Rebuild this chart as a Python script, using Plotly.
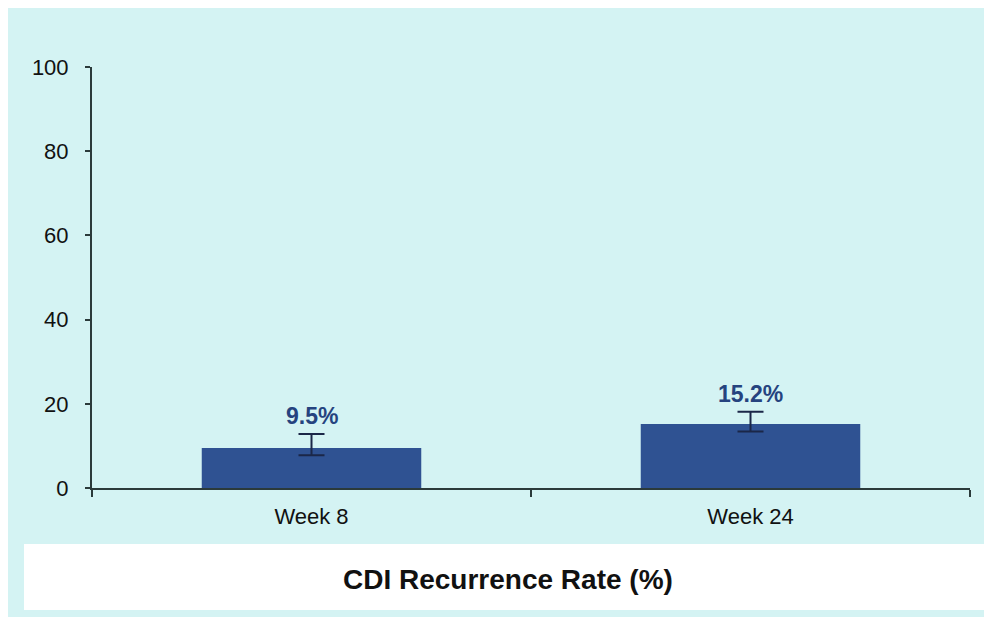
import plotly.graph_objects as go

categories = ["Week 8", "Week 24"]
rates = [9.5, 15.2]
err_plus = [3.3, 2.9]
err_minus = [1.7, 1.8]
labels = ["9.5%", "15.2%"]
y_ticks = [0, 20, 40, 60, 80, 100]
x_title = "CDI Recurrence Rate (%)"

# page body has an 8px margin, which gives the white border of the reference
W, H = 992, 609
L, R, T, B = 84, 30, 59, 129
pw, ph = W - L - R, H - T - B

def px(x):
    return (x - L) / pw

def py(y):
    return (H - B - y) / ph

CYAN = "#d4f3f3"
BAR = "#2f5292"
LABEL = "#25437f"
AXIS = "#2b3a3a"
FONT = "Liberation Sans, Arial, sans-serif"

fig = go.Figure()
fig.add_trace(go.Bar(
    x=categories, y=rates,
    marker=dict(color=BAR, line=dict(width=0)),
    error_y=dict(type="data", symmetric=False, array=err_plus, arrayminus=err_minus,
                 color="#1b2748", thickness=2, width=13),
    hoverinfo="skip",
))

for c, v, e, t in zip(categories, rates, err_plus, labels):
    fig.add_annotation(x=c, y=v + e, text=f"<b>{t}</b>", showarrow=False,
                       yanchor="bottom", yshift=3,
                       font=dict(family=FONT, size=23, color=LABEL))

fig.add_annotation(xref="paper", yref="paper", x=px(500), y=py(571),
                   text=f"<b>{x_title}</b>", showarrow=False,
                   xanchor="center", yanchor="middle",
                   font=dict(family=FONT, size=28, color="#111111"))

shapes = [
    dict(type="rect", xref="paper", yref="paper", layer="below",
         x0=px(16), x1=px(980), y0=py(602), y1=py(536),
         fillcolor="white", line=dict(width=0)),
]

fig.update_layout(
    width=W, height=H,
    margin=dict(l=L, r=R, t=T, b=B, pad=0),
    paper_bgcolor=CYAN, plot_bgcolor="rgba(0,0,0,0)",
    shapes=shapes,
    showlegend=False,
    bargap=0.5,
    font=dict(family=FONT, size=22, color="#111111"),
    xaxis=dict(showline=True, linecolor=AXIS, linewidth=2, ticks="outside",
               tickson="boundaries", ticklen=7, tickwidth=2, tickcolor=AXIS,
               showgrid=False, zeroline=False, ticklabelstandoff=8,
               tickfont=dict(family=FONT, size=22, color="#111111")),
    yaxis=dict(range=[0, 100], tickvals=y_ticks, showline=True, linecolor=AXIS,
               linewidth=2, ticks="outside", ticklen=5, tickwidth=2, tickcolor=AXIS,
               showgrid=False, zeroline=False, ticklabelstandoff=12,
               tickfont=dict(family=FONT, size=22, color="#111111")),
)

fig.write_html("out.html", post_script="document.body.style.overflow='hidden';")
